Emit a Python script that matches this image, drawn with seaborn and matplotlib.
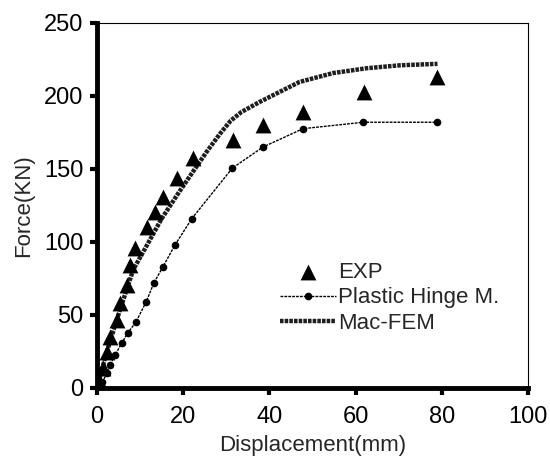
import matplotlib
matplotlib.use("Agg")
import matplotlib.pyplot as plt
import seaborn as sns
import pandas as pd

# values
exp_disp = [0.5, 1.4, 2.3, 3.0, 4.6, 5.3, 7.0, 7.7, 8.8, 11.6, 13.5, 15.3, 18.6, 22.3,
            31.6, 38.5, 47.8, 62.0, 78.9]
exp_force = [5, 14, 24.6, 35, 46.5, 58, 70.5, 84, 96, 110, 120.5, 131, 144, 157.5,
             170, 180, 189, 203, 213]

phm_disp = [0, 1.2, 2.3, 3.0, 4.2, 5.8, 7.2, 9.0, 11.4, 13.2, 15.3, 18.1, 22.0,
            31.4, 38.5, 47.8, 61.8, 78.9]
phm_force = [0, 4, 10, 15.7, 22.6, 31, 38, 45, 59, 72, 83, 98, 116,
             150.6, 165, 177.6, 182, 182]

fem_disp = [0, 2.0, 4.5, 8.4, 12.0, 15.0, 19.0, 22.0, 25.5, 28.5, 31.0, 33.5, 37.8,
            43.2, 47.0, 54.8, 62.6, 70.3, 79.0]
fem_force = [0, 22, 46, 81, 100, 116, 134, 147, 162, 174, 183, 189, 196,
             204, 209.6, 215.7, 219, 221, 222]

exp_df = pd.DataFrame({"disp": exp_disp, "force": exp_force})
phm_df = pd.DataFrame({"disp": phm_disp, "force": phm_force})
fem_df = pd.DataFrame({"disp": fem_disp, "force": fem_force})

sns.set_style("ticks")
plt.rcParams["font.family"] = ["Liberation Sans", "DejaVu Sans"]

fig = plt.figure(figsize=(5.5, 4.59), dpi=100)
ax = fig.add_axes([0.1764, 0.1547, 0.7836, 0.7953])

sns.scatterplot(data=exp_df, x="disp", y="force", marker="^", s=130, color="black",
                edgecolor="black", linewidth=0, label="EXP", ax=ax, zorder=3)
sns.lineplot(data=phm_df, x="disp", y="force", color="black", linewidth=1.0,
             linestyle=(0, (2, 0.8)), marker="o", markersize=5.5, markeredgewidth=0,
             label="Plastic Hinge M.", ax=ax, sort=False)
sns.lineplot(data=fem_df, x="disp", y="force", color="#1e1e1e", linewidth=3.2,
             linestyle=(0, (0.8, 0.25)), label="Mac-FEM", ax=ax, sort=False)

ax.set_xlim(0, 100)
ax.set_ylim(0, 250)
ax.set_xticks([0, 20, 40, 60, 80, 100])
ax.set_yticks([0, 50, 100, 150, 200, 250])
ax.set_xlabel("Displacement(mm)", fontsize=16, labelpad=5)
ax.set_ylabel("Force(KN)", fontsize=16, labelpad=7)
ax.tick_params(axis="x", pad=8)
ax.tick_params(axis="y", pad=5)
ax.tick_params(axis="both", labelsize=17, width=3, length=5, direction="out",
               color="black", labelcolor="black")

for side in ["left", "bottom"]:
    ax.spines[side].set_linewidth(3.5)
    ax.spines[side].set_color("black")
for side in ["top", "right"]:
    ax.spines[side].set_visible(True)
    ax.spines[side].set_linewidth(0.8)
    ax.spines[side].set_color("black")

leg = ax.legend(loc="upper left", bbox_to_anchor=(0.4246, 0.345), frameon=False,
                fontsize=16, handlelength=2.5, handletextpad=0.1, labelspacing=0.2,
                borderaxespad=0, borderpad=0)

fig.savefig("out.png", dpi=100)
